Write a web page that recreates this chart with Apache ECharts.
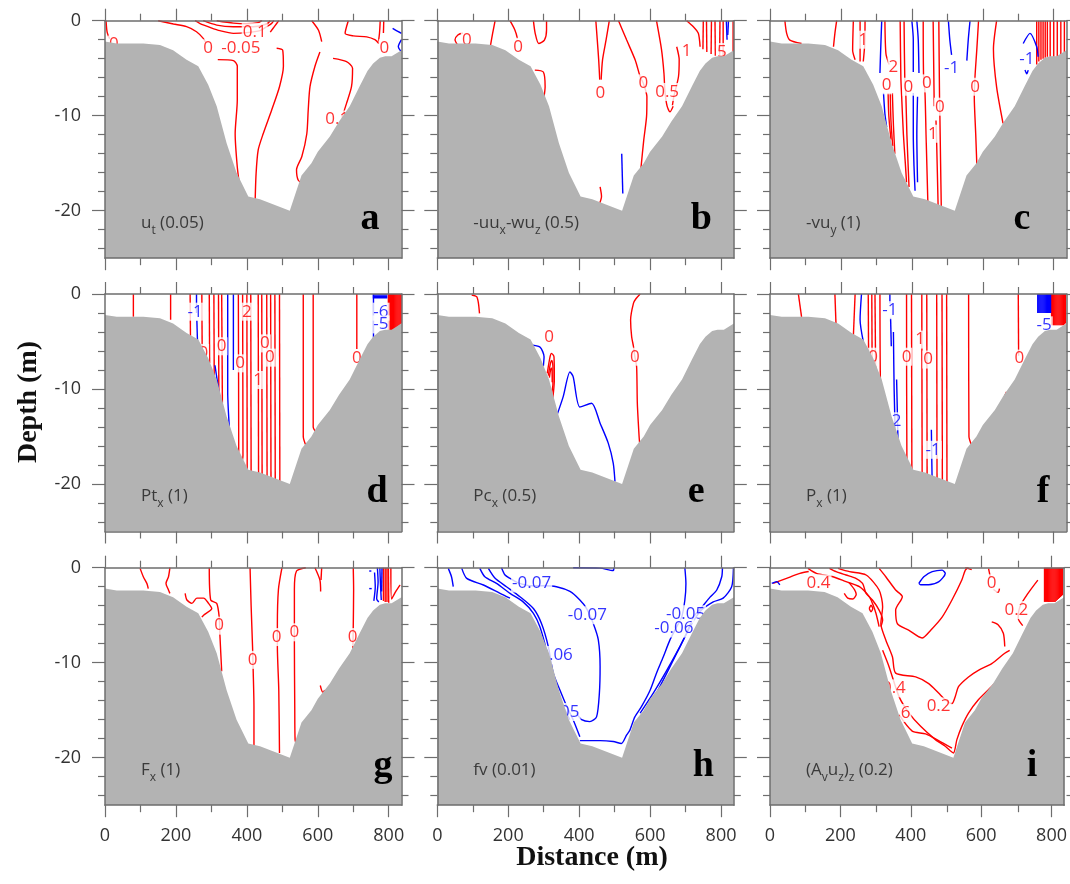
<!DOCTYPE html>
<html><head><meta charset="utf-8">
<script src="https://cdn.jsdelivr.net/npm/echarts@6/dist/echarts.min.js"></script>
<style>html,body{margin:0;padding:0;background:#fff}#c{width:1070px;height:884px}</style>
</head><body><div id="c"></div>
<script>
// ---- axis ticks ----
const xMajor = [0, 200, 400, 600, 800];
const xMinor = [100, 300, 500, 700];
const yMajor = [-20, -10, 0];
const yMinor = [-24, -22, -18, -16, -14, -12, -8, -6, -4, -2];
const X_MAX = 836, Y_MIN = -25;

// ---- bathymetry (distance m, depth m) ----
const bathyX =     [0, 33, 108, 155, 192, 230, 263, 291, 315, 343, 371, 404, 437, 521, 554, 582, 600, 634, 660, 690, 718, 740, 756, 775, 790, 808, 836];
const bathyDepth = [-2.2, -2.4, -2.4, -2.55, -3.1, -4.1, -4.8, -6.75, -9.0, -12.9, -16.0, -18.5, -18.8, -20.0, -16.3, -15.0, -13.8, -12.2, -10.6, -9.0, -6.9, -5.3, -4.5, -3.9, -3.75, -3.75, -3.1];

// ---- panel a : u_t ----
const aRed = [
 [[3,0],[6,-1.2],[13,-1.9]],
 [[150,0],[193,-0.35],[230,-0.63],[258,-1.16],[277,-1.86],[284,-2.3]],
 [[254,0],[268,-0.3],[296,-0.7],[324,-1.05],[362,-1.33],[400,-1.26],[437,-1.05],[456,-0.63],[470,-0.28],[476,0]],
 [[277,0],[315,-0.46],[362,-0.63],[418,-0.63],[456,-0.35],[466,0]],
 [[315,0],[362,-0.25],[400,-0.32],[432,-0.2],[442,0]],
 [[490,0],[478,-0.6],[466,-1.2]],
 [[318,-4.1],[362,-4.2],[373,-4.8],[373,-8.35],[367,-11.9],[373,-15.4],[380,-17.5]],
 [[484,-2.9],[501,-3.1],[503,-4.8],[492,-6.95],[470,-9.4],[446,-11.9],[432,-13.6],[426,-16.1],[423,-19.5]],
 [[583,0],[602,-1.0],[611,-2.2]],
 [[686,0],[677,-1.33],[700,-1.6],[738,-1.7],[761,-2.0],[772,-2.4]],
 [[776,0],[774,-1.3],[771,-2.2]],
 [[786,0],[785,-1.3]],
 [[606,-3.3],[592,-4.8],[578,-6.95],[573,-9.4],[569,-11.9],[555,-14.3],[540,-15.7],[545,-16.8],[561,-17.2]],
 [[643,-3.96],[681,-4.3],[698,-5.0],[695,-6.95],[681,-8.7],[668,-10.2]]
];
const aBlue = [[[811,-0.8],[827,-1.16],[836,-1.33]],[[836,-2.0],[827,-2.74],[834,-3.2]]];
const aLabels = [[25,-2.5,'0','r'],[291,-2.9,'0','r'],[383,-2.9,'-0.05','r'],[422,-1.2,'0.1','r'],[788,-2.9,'0','r'],[655,-10.4,'0.1','r']];

// ---- panel b : -uu_x-wu_z ----
const bRed = [
 [[58,-2.6],[50,-2.0],[58,-1.5],[72,-1.3]],
 [[163,0],[156,-1.33],[150,-2.6]],
 [[205,0],[219,-1.0],[226,-1.9]],
 [[271,0],[276,-1.33],[286,-2.4],[302,-2.04],[308,-0.98],[308,0]],
 [[275,-5.2],[299,-5.4],[304,-6.95],[301,-8.0]],
 [[447,0],[451,-2.0],[455,-4.1],[458,-6.2]],
 [[485,0],[476,-2.0],[466,-4.1],[462,-6.2]],
 [[511,0],[534,-2.04],[558,-4.14],[572,-5.9],[581,-6.6],[591,-8.0],[590,-10.1],[582,-12.6],[574,-15.6]],
 [[618,0],[632,-3.0],[639,-5.5],[642,-7.5],[648,-9.0],[656,-9.6],[665,-9.0]],
 [[675,-2.74],[682,-4.1],[680,-5.9],[667,-8.0],[663,-8.9]],
 [[703,0],[722,-0.63],[736,-1.33],[741,-2.74]],
 [[750,0],[749,-3.0]],[[759,0],[760,-3.3]],[[773,0],[772,-3.5]],[[783,0],[784,-3.7]],[[797,0],[796,-3.8]],[[806,0],[806,-3.8]],[[834,0],[834,-3.3]],
 [[459,-17.5],[463,-18.5],[457,-19.3]]
];
const bBlue = [[[520,-14],[523,-18.2]],[[815,0],[817,-2.0]],[[821,0],[819,-1.5]]];
const bLabels = [[83,-2.0,'0','r'],[228,-2.74,'0','r'],[460,-7.6,'0','r'],[581,-6.6,'0','r'],[648,-7.5,'0.5','r'],[703,-3.2,'1','r'],[802,-3.3,'5','r']];

// ---- panel c : -vu_y ----
const cRed = [
 [[42,0],[47,-1.33],[56,-2.04],[89,-2.4]],
 [[188,0],[183,-1.33],[179,-2.74]],
 [[235,0],[233,-3.1],[240,-4.1]],
 [[254,0],[254,-4.3]],
 [[268,0],[267,-2.5],[263,-4.3]],
 [[324,0],[327,-3.5],[336,-4.6]],
 [[333,-7.6],[335,-10.0],[341,-12.5]],
 [[339,-7.6],[341,-10.5],[346,-13.2]],
 [[345,-7.6],[348,-11.0],[352,-14.0]],
 [[367,0],[369,-6.0],[371,-7.8],[376,-11.9],[381,-14.7],[385,-17.0]],
 [[378,0],[380,-6.0],[383,-7.8],[386,-12.0],[392,-17.5]],
 [[432,0],[433,-5.8],[437,-7.6],[440,-12.0],[445,-19.0]],
 [[460,0],[462,-6],[463,-9]],
 [[468,-10.5],[470,-13],[474,-19.5]],
 [[476,0],[478,-8],[479,-10],[481,-15],[483,-19.8]],
 [[588,0],[583,-3.1],[578,-5.9],[576,-8.0],[580,-11.9],[584,-16.0]],
 [[639,0],[630,-3.0],[639,-7.0],[657,-10.8]],
 [[752,0],[752,-4.6]],[[758,0],[758,-4.3]],[[764,0],[764,-4.1]],[[770,0],[770,-4.0]],[[776,0],[776,-3.9]],[[782,0],[782,-3.8]],
 [[790,0],[790,-3.8]],[[800,0],[800,-3.8]],[[810,0],[810,-3.8]],[[820,0],[820,-3.6]],[[830,0],[830,-3.3]]
];
const cBlue = [
 [[315,0],[312,-3.1],[310,-5.5]],[[320,-7.6],[324,-9.8],[329,-11.2]],
 [[400,0],[404,-2.0],[404,-5.4]],[[404,-7.6],[404,-11.9],[406,-15.3],[409,-17.9]],
 [[414,0],[418,-2.0],[420,-5.5]],[[416,-8.0],[414,-12.0],[416,-17.0]],
 [[503,0],[507,-2.0],[512,-3.6]],
 [[564,0],[559,-2.0],[555,-4.2]],
 [[714,-2.4],[733,-1.33],[752,-2.74],[756,-3.8]],
 [[719,-5.2],[724,-5.6],[728,-5.2]]
];
const cLabels = [[263,-2.0,'1','r'],[348,-4.84,'2','r'],[329,-6.8,'0','r'],[390,-6.95,'0','r'],[442,-6.6,'0','r'],[479,-9.05,'0','r'],[578,-6.95,'0','r'],[459,-11.9,'1','r'],[512,-5.0,'-1','b'],[724,-4.1,'-1','b']];

// ---- panel d : Pt_x ----
const dRed = [
 [[80,0],[80,-2.4]],[[185,0],[185,-2.7]],[[240,0],[241,-4.5]],[[273,0],[274,-5.8]],
 [[294,0],[295,-7.3]],[[307,0],[308,-9.0]],[[320,0],[321,-10.5]],[[329,0],[331,-11.5]],
 [[376,0],[377,-16.5],[372,-17.5]],[[388,0],[389,-17.0],[383,-18.3]],[[400,0],[401,-18.7]],[[411,0],[412,-18.9]],
 [[432,0],[433,-19.0]],[[442,0],[443,-19.2]],[[456,0],[457,-19.4]],[[467,0],[468,-19.5]],[[479,0],[480,-19.7]],[[492,0],[493,-19.9]],
 [[559,0],[559,-15.0],[567,-16.0]],[[587,0],[587,-14.0],[599,-14.7]],[[710,0],[710,-5.8]],
 [[799,0],[799,-3.8]],[[802,0],[802,-3.8]],[[805,0],[805,-3.8]],[[808,0],[808,-3.8]],[[811,0],[811,-3.8]],[[814,0],[814,-3.8]],[[817,0],[817,-3.7]],
 [[820,0],[820,-3.6]],[[823,0],[823,-3.5]],[[826,0],[826,-3.4]],[[829,0],[829,-3.3]],[[832,0],[832,-3.2]],[[835,0],[835,-3.1]]
];
const dBlue = [
 [[258,0],[258,-2.0]],[[259,-2.8],[262,-6.5]],[[310,-7.5],[320,-10.0],[325,-11.5]],[[346,0],[346,-10.4],[351,-14.3]],[[362,0],[362,-8.0]],
 [[757,0],[757,-4.6]],[[755,-0.1],[796,-0.1]],[[755,-0.25],[796,-0.25]],[[755,-0.4],[796,-0.4]]
];
const dLabels = [[254,-1.86,'-1','b'],[400,-1.86,'2','r'],[277,-6.2,'0','r'],[329,-5.5,'0','r'],[381,-7.3,'0','r'],[451,-5.2,'0','r'],[465,-6.7,'0','r'],[432,-9.05,'1','r'],[710,-6.8,'0','r'],[778,-1.86,'-6','b'],[778,-3.2,'-5','b']];

// ---- panel e : Pc_x ----
const eRed = [
 [[97,-0.1],[111,-0.28],[116,-0.98],[119,-2.04]],
 [[310,-8.35],[318,-6.6],[322,-6.25],[329,-6.6],[330,-9.05],[325,-11.2]],
 [[313,-8.6],[319,-7.3],[323,-7.0],[326,-7.6],[326,-9.5],[322,-10.5]],
 [[316,-8.8],[320,-7.9],[323,-7.8],[324,-9.3]],
 [[572,0],[560,-0.5],[553,-0.98],[545,-2.74],[548,-4.5],[553,-5.5],[557,-6.6],[562,-7.65],[564,-11.5],[569,-15.0],[571,-15.9]]
];
const eBlue = [
 [[269,-5.4],[290,-5.6],[301,-6.6],[299,-7.6]],
 [[336,-12.9],[355,-10.8],[374,-8.2],[383,-8.7],[402,-11.9],[435,-11.5],[459,-13.6],[482,-15.7],[496,-17.8],[501,-19.75]]
];
const eLabels = [[315,-4.5,'0','r'],[557,-6.6,'0','r']];

// ---- panel f : P_x ----
const fRed = [
 [[80,0],[89,-2.4]],[[183,0],[186,-3.1]],[[240,0],[235,-4.5]],
 [[277,0],[278,-6.5]],[[287,0],[288,-7.5]],[[296,0],[298,-9.0]],[[310,0],[312,-10.5],[318,-11.5]],
 [[385,0],[386,-17.5],[392,-18.8]],[[399,0],[400,-18.8]],[[428,0],[429,-19.2]],[[442,0],[443,-19.4]],[[470,0],[471,-19.6]],[[485,0],[486,-19.8]],[[498,0],[499,-19.9]],
 [[560,0],[561,-15.0],[567,-15.8]],[[700,0],[701,-6.5]],[[667,-10.3],[660,-10.9]],
 [[794,0],[794,-3.3]],[[797,0],[797,-3.3]],[[800,0],[800,-3.3]],[[803,0],[803,-3.3]],[[806,0],[806,-3.3]],[[809,0],[809,-3.3]],[[812,0],[812,-3.3]],
 [[815,0],[815,-3.3]],[[818,0],[818,-3.3]],[[821,0],[821,-3.3]],[[824,0],[824,-3.3]],[[827,0],[827,-3.3]],[[830,0],[830,-3.2]],[[833,0],[833,-3.1]]
];
const fBlue = [
 [[258,0],[254,-2.7],[263,-5.0]],
 [[338,0],[338,-1.0]],[[340,-2.5],[342,-5.5]],
 [[348,-4.0],[350,-10],[354,-16.0]],
 [[357,-9.0],[360,-14],[362,-17.5]],
 [[455,-14.3],[456,-17],[457,-19.3]],
 [[755,0],[755,-2.0]],[[758,0],[758,-2.0]],[[761,0],[761,-2.0]],[[764,0],[764,-2.0]],[[767,0],[767,-2.0]],[[770,0],[770,-2.0]],
 [[773,0],[773,-2.0]],[[776,0],[776,-2.0]],[[779,0],[779,-2.0]],[[782,0],[782,-2.0]],[[785,0],[785,-2.0]],[[788,0],[788,-2.0]],[[791,0],[791,-2.0]]
];
const fLabels = [[338,-1.7,'-1','b'],[291,-6.6,'0','r'],[385,-6.6,'0','r'],[446,-6.9,'0','r'],[423,-4.8,'1','r'],[357,-13.4,'2','b'],[460,-16.4,'-1','b'],[703,-6.8,'0','r'],[773,-3.3,'-5','b']];

// ---- panel g : F_x ----
const gRed = [
 [[99,-0.07],[108,-0.95],[118,-1.65],[122,-2.2]],
 [[183,0],[179,-0.95],[172,-1.65],[179,-2.35],[183,-2.7]],
 [[226,-2.7],[231,-3.4],[245,-3.75],[259,-3.2],[278,-3.2],[292,-3.75],[301,-4.3],[278,-5.0],[273,-5.2]],
 [[294,0],[298,-3.4],[315,-3.75],[322,-5.2],[324,-7.1],[329,-10.9]],
 [[409,0],[412,-4.0],[416,-8.3],[418,-11.1],[420,-14.6],[420,-18.7]],
 [[499,0],[489,-2.3],[486,-6.1],[486,-8.3],[490,-12.9],[492,-19.5]],
 [[566,0],[540,-0.35],[534,-2.3],[534,-5.8],[534,-8.0],[535,-14.6],[536,-18.1],[542,-18.8]],
 [[592,0],[606,-1.3],[608,-2.5]],[[611,0],[609,-1.3]],
 [[700,0],[701,-2.3],[700,-6.1],[699,-8.5]],
 [[607,-12.4],[614,-13.1],[620,-12.9]],
 [[785,0],[785,-3.5]],[[790,0],[790,-3.6]],[[795,0],[795,-3.6]],[[799,0],[800,-3.7]],[[806,0],[808,-3.3],[820,-2.5],[832,-1.8]]
];
const gBlue = [
 [[760,-0.5],[762,-2.0],[758,-3.5]],[[768,0],[770,-1.5],[766,-3.3],[772,-3.6]],[[775,0],[777,-2.0],[779,-3.4]],[[781,0],[780,-2.5]],
 [[745,-0.35],[751,-0.35]],[[745,-2.2],[752,-2.2]]
];
const gLabels = [[322,-6.1,'0','r'],[416,-9.7,'0','r'],[484,-7.3,'0','r'],[534,-6.8,'0','r'],[698,-7.3,'0','r']];

// ---- panel h : fv ----
const hRed = [];
const hBlue = [
 [[31,-0.07],[40,-0.95],[45,-2.0]],
 [[69,-0.07],[83,-1.12],[130,-1.82],[177,-2.7],[205,-3.2]],
 [[120,-0.07],[134,-0.95],[167,-1.65],[205,-2.7],[242,-3.6],[271,-4.8],[289,-6.2],[308,-8.7],[322,-11.1],[336,-12.9],[355,-14.6],[374,-16.0]],
 [[144,-0.07],[163,-1.12],[195,-2.0],[233,-3.05],[271,-4.3],[294,-5.9],[313,-8.3],[327,-11.1],[346,-12.9],[365,-14.6],[383,-16.0],[402,-17.8]],
 [[181,0],[191,-0.77],[205,-1.12],[228,-1.6],[266,-1.9],[300,-1.9],[336,-2.0],[374,-2.5],[402,-3.4],[421,-4.3],[440,-5.9],[454,-7.6],[459,-10.4],[457,-13.2],[449,-15.7],[430,-16.2],[407,-16.0],[393,-15.3]],
 [[402,-18.2],[459,-18.2],[496,-18.3],[519,-18.5],[534,-17.6],[543,-17.1],[557,-15.7],[576,-14.6],[600,-12.9],[618,-11.1],[637,-9.4],[656,-7.6],[675,-6.2],[689,-5.2],[698,-3.4],[701,-1.65],[698,0]],
 [[562,-16.7],[590,-15.0],[618,-13.2],[647,-11.1],[675,-9.0],[703,-6.9],[722,-5.2],[745,-4.2],[769,-3.1],[788,-2.35],[802,-0.95],[804,0]],
 [[572,-15.3],[609,-13.2],[647,-10.8],[684,-8.3],[713,-6.2],[741,-4.6],[778,-3.6],[806,-3.2],[830,-2.0],[835,0]],
 [[383,0],[459,-0.05],[496,-0.3],[498,0]]
];
const hLabels = [[266,-1.65,'-0.07','b'],[423,-5.0,'-0.07','b'],[327,-9.2,'-0.06','b'],[700,-4.9,'-0.05','b'],[667,-6.4,'-0.06','b'],[346,-15.2,'-0.05','b']];

// ---- panel i : (A_v u_z)_z ----
const iRed = [
 [[310,-0.07],[329,-0.95],[357,-2.35],[376,-3.05],[357,-4.46],[362,-5.9],[395,-6.6],[432,-7.4],[456,-6.6],[489,-5.2],[517,-3.4],[545,-1.3],[555,-0.25],[564,0]],
 [[193,-0.07],[226,-0.42],[273,-0.77],[310,-2.35],[320,-4.1],[315,-5.9],[329,-7.6],[348,-9.4],[357,-11.1],[414,-11.5],[451,-12.2],[479,-13.2],[498,-13.9],[517,-14.3],[526,-13.6],[536,-12.5],[564,-11.5],[592,-10.8],[630,-10.1],[667,-9.0],[681,-8.7]],
 [[320,-8.7],[338,-10.4],[367,-13.6],[395,-15.3],[428,-16.7],[470,-18.1],[498,-18.8],[521,-19.5],[531,-18.1],[545,-16.7],[564,-15.3],[592,-13.9],[630,-12.5],[667,-11.1],[686,-10.1]],
 [[367,-15.5],[404,-17.2],[442,-17.5],[479,-18.2],[517,-19.0]],
 [[108,-0.07],[132,-0.6],[179,-0.95],[216,-1.47],[254,-2.0],[282,-3.05],[291,-3.75],[301,-4.8],[310,-6.2]],
 [[169,-0.07],[188,-0.42],[216,-0.77],[244,-1.12],[263,-1.65],[273,-2.7],[291,-3.4],[310,-4.46],[320,-5.5],[315,-6.2]],
 [[282,-4.3],[287,-3.95],[292,-4.3],[287,-4.65],[282,-4.3]],
 [[225,-1.6],[240,-2.3],[245,-2.8],[235,-3.3],[221,-3.2],[211,-2.7]],
 [[9,-1.65],[47,-1.12],[85,-0.6],[110,-0.4]],
 [[621,-0.1],[626,-1.0]],[[635,-2.3],[648,-2.6],[652,-2.2]],
 [[761,-1.3],[733,-2.7],[710,-4.1],[705,-5.3],[718,-6.1]],
 [[630,-5.7],[648,-6.0],[663,-6.9],[667,-8.3]],
 [[555,0],[573,-0.2]],
 [[780,0],[780,-3.6]],[[783,0],[783,-3.6]],[[786,0],[786,-3.6]],[[789,0],[789,-3.6]],[[792,0],[792,-3.6]],[[795,0],[795,-3.6]],[[798,0],[798,-3.6]],
 [[801,0],[801,-3.6]],[[804,0],[804,-3.6]],[[807,0],[807,-3.6]],[[810,0],[810,-3.6]],[[813,0],[813,-3.5]],[[816,0],[816,-3.4]],[[819,0],[819,-3.3]],
 [[822,0],[822,-3.2]],[[825,0],[825,-3.1]],[[828,0],[828,-3.0]],[[831,0],[831,-2.9]]
];
const iBlue = [
 [[423,-1.65],[437,-0.95],[461,-0.42],[489,-0.25],[498,-0.6],[479,-1.5],[451,-1.8],[428,-1.8],[423,-1.65]],
 [[5,-1.65],[19,-1.47],[28,-1.8]]
];
const iLabels = [[138,-1.65,'0.4','r'],[630,-1.65,'0','r'],[700,-4.46,'0.2','r'],[352,-12.7,'0.4','r'],[479,-14.6,'0.2','r'],[385,-15.3,'6','r']];

// ---- panel captions ----
const captions = [
 '{n|u}{s|t}{n| (0.05)}',
 '{n|-uu}{s|x}{n|-wu}{s|z}{n| (0.5)}',
 '{n|-vu}{s|y}{n| (1)}',
 '{n|Pt}{s|x}{n| (1)}',
 '{n|Pc}{s|x}{n| (0.5)}',
 '{n|P}{s|x}{n| (1)}',
 '{n|F}{s|x}{n| (1)}',
 '{n|fv (0.01)}',
 '{n|(A}{s|v}{n|u}{s|z}{n|)}{s|z}{n| (0.2)}'
];
const letters = ['a','b','c','d','e','f','g','h','i'];
const letterX = [265, 264, 252, 272, 259, 273, 278, 266, 262];

const panelData = [
 [aRed,aBlue,aLabels],[bRed,bBlue,bLabels],[cRed,cBlue,cLabels],
 [dRed,dBlue,dLabels],[eRed,eBlue,eLabels],[fRed,fBlue,fLabels],
 [gRed,gBlue,gLabels],[hRed,hBlue,hLabels],[iRed,iBlue,iLabels]
];

// ---- layout ----
const LEFTS = [105, 437.3, 770], TOPS = [20.7, 294, 567.7], W = 296.5, H = 237.5;
const AX = '#6e6e6e';
const grids = [], xAxis = [], yAxis = [], series = [], graphic = [];
const rects = [];
for (let p = 0; p < 9; p++) {
  const col = p % 3, row = Math.floor(p / 3);
  rects.push({left: LEFTS[col], top: TOPS[row]});
}
// main grids 0..8, minor-tick grids 9..17
for (let k = 0; k < 18; k++) {
  const r = rects[k % 9];
  grids.push({left: r.left, top: r.top, width: W, height: H, containLabel: false});
}
const lbl = {fontSize: 18, fontFamily: 'Open Sans', color: '#333'};
function xa(grid, pos, vals, len, showLine, showLabel) {
  return {gridIndex: grid, type: 'value', min: 0, max: X_MAX, position: pos, z: 10,
    axisLine: {show: showLine, onZero: false, lineStyle: {color: AX, width: 1.5}},
    axisTick: {show: true, inside: false, length: len, customValues: vals, lineStyle: {color: AX, width: 1.2}},
    axisLabel: Object.assign({show: showLabel, customValues: vals, margin: 22}, lbl),
    splitLine: {show: false}};
}
function ya(grid, pos, vals, len, showLine, showLabel) {
  return {gridIndex: grid, type: 'value', min: Y_MIN, max: 0, position: pos, z: 10,
    axisLine: {show: showLine, onZero: false, lineStyle: {color: AX, width: 1.5}},
    axisTick: {show: true, inside: false, length: len, customValues: vals, lineStyle: {color: AX, width: 1.2}},
    axisLabel: Object.assign({show: showLabel, customValues: vals, margin: 24}, lbl),
    splitLine: {show: false}};
}
for (let p = 0; p < 9; p++) xAxis.push(xa(p, 'bottom', xMajor, 12, true, Math.floor(p/3) === 2));
for (let p = 0; p < 9; p++) xAxis.push(xa(p, 'top', xMajor, 12, true, false));
for (let p = 0; p < 9; p++) xAxis.push(xa(9+p, 'bottom', xMinor, 7, false, false));
for (let p = 0; p < 9; p++) xAxis.push(xa(9+p, 'top', xMinor, 7, false, false));
for (let p = 0; p < 9; p++) yAxis.push(ya(p, 'left', yMajor, 13, true, p % 3 === 0));
for (let p = 0; p < 9; p++) yAxis.push(ya(p, 'right', yMajor, 13, true, false));
for (let p = 0; p < 9; p++) yAxis.push(ya(9+p, 'left', yMinor, 7, false, false));
for (let p = 0; p < 9; p++) yAxis.push(ya(9+p, 'right', yMinor, 7, false, false));

const bathy = bathyX.map((x, i) => [x, bathyDepth[i]]);
panelData.forEach((pd, p) => {
  const [reds, blues, labels] = pd;
  const mk = (L, color) => ({type: 'line', xAxisIndex: p, yAxisIndex: p, data: L, symbol: 'none', showSymbol: false,
    smooth: 0.25, lineStyle: {color: color, width: 1.4}, z: 2, silent: true, animation: false});
  reds.forEach(L => series.push(mk(L, '#ff0000')));
  blues.forEach(L => series.push(mk(L, '#0000ff')));
  series.push({type: 'scatter', xAxisIndex: p, yAxisIndex: p, symbolSize: 0, silent: true, animation: false, z: 3,
    itemStyle: {color: 'transparent'},
    data: labels.map(l => ({value: [l[0], l[1]], name: l[2], label: {color: l[3] === 'b' ? '#0000ff' : '#ff0000'}})),
    label: {show: true, position: 'inside', formatter: '{b}', fontSize: 17, fontFamily: 'Open Sans', backgroundColor: '#fff', padding: [0, 1], lineHeight: 18}});
  series.push({type: 'line', xAxisIndex: p, yAxisIndex: p, data: bathy, symbol: 'none', showSymbol: false, silent: true, animation: false,
    lineStyle: {width: 0}, areaStyle: {color: '#b3b3b3', opacity: 1, origin: 'start'}, z: 5});

  const r = rects[p];
  graphic.push({type: 'text', x: r.left + 36, y: r.top + 194, z: 20, silent: true,
    style: {text: captions[p], align: 'left', verticalAlign: 'top',
      rich: {n: {fontSize: 17, fontFamily: 'Open Sans', fill: '#3a3a3a', lineHeight: 20, verticalAlign: 'top'},
             s: {fontSize: 12, fontFamily: 'Open Sans', fill: '#3a3a3a', lineHeight: 32}}}});
  graphic.push({type: 'text', x: r.left + letterX[p], y: r.top + 198, z: 20, silent: true,
    style: {text: letters[p], font: 'bold 38px "Liberation Serif"', fill: '#000', align: 'center', verticalAlign: 'middle'}});
});
graphic.push({type: 'text', x: 29, y: 402, rotation: Math.PI / 2, z: 20, silent: true,
  style: {text: 'Depth (m)', font: 'bold 28px "Liberation Serif"', fill: '#111', align: 'center', verticalAlign: 'middle'}});
graphic.push({type: 'text', x: 592, y: 858, z: 20, silent: true,
  style: {text: 'Distance (m)', font: 'bold 28px "Liberation Serif"', fill: '#111', align: 'center', verticalAlign: 'middle'}});

const chart = echarts.init(document.getElementById('c'), null, {renderer: 'canvas'});
chart.setOption({animation: false, backgroundColor: '#fff', grid: grids, xAxis, yAxis, series, graphic});
</script></body></html>
